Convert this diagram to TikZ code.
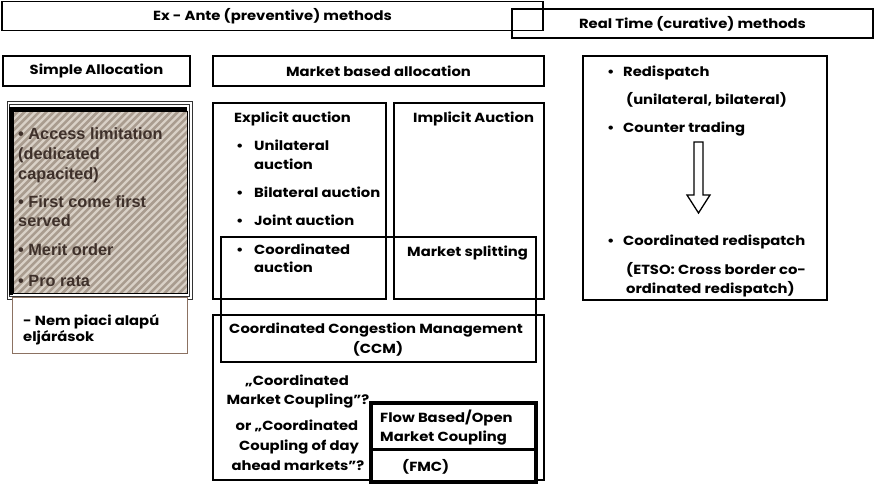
\documentclass[tikz,border=0pt]{standalone}
\usepackage{fontspec}
\setmainfont{Poppins}[FakeStretch=1.12]
\newfontfamily\arialf{Liberation Sans}
\definecolor{hatchbg}{HTML}{D9D1C7}
\definecolor{hatchfg}{HTML}{A99C8F}
\definecolor{browntext}{HTML}{3E302A}
\definecolor{nemborder}{HTML}{8C7262}
\begin{document}
\begin{tikzpicture}[x=1pt,y=-1pt,
  box/.style={draw=black, line width=1.6pt, inner sep=0pt, font=\bfseries\fontsize{13.2}{15}\selectfont},
  thinbox/.style={draw=black, line width=1.2pt, inner sep=0pt},
  txt/.style={inner sep=0pt, anchor=base west, font=\bfseries\fontsize{13.2}{15}\selectfont},
  ctxt/.style={inner sep=0pt, anchor=base, font=\bfseries\fontsize{13.2}{15}\selectfont},
  htxt/.style={inner sep=0pt, anchor=base west, text=browntext, font=\arialf\bfseries\fontsize{16.3}{18}\selectfont},
  bul/.style={inner sep=0pt, anchor=base west, font=\bfseries\fontsize{13.2}{15}\selectfont}]
\useasboundingbox[fill=white] (0,0) rectangle (876,486);

% header boxes
\node[box, minimum width=541pt, minimum height=29pt] (exante) at (272.5,16) {Ex - Ante (preventive) methods};
\node[box, minimum width=361pt, minimum height=29pt] (realtime) at (692.5,23.5) {Real Time (curative) methods};
\node[box, minimum width=187pt, minimum height=30pt] (simple) at (96.5,71) {Simple Allocation};
\node[box, minimum width=331pt, minimum height=30pt] (market) at (378.5,71) {Market based allocation};

% left hatched box
\draw[line width=0.8pt, black!80] (7,101) rectangle (192,299);
\draw[line width=0.8pt, black!80] (9.5,104) rectangle (189.5,296.5);
\fill[hatchbg] (13,111) rectangle (187,293);
\begin{scope}
  \clip (13,111) rectangle (187,293);
  \foreach \x in {-200,-192.7,...,200} {
    \draw[hatchfg, line width=2.6pt] (\x,300) -- ({\x+200},100);
  }
\end{scope}
\draw[line width=0.9pt] (13,111) rectangle (187,293);
\draw[line width=4pt] (11,295) -- (11,109) -- (187,109);
\node[htxt] (h1) at (18,140) {• Access limitation};
\node[htxt] (h2) at (18,160) {(dedicated};
\node[htxt] (h3) at (18,180) {capacited)};
\node[htxt] (h4) at (18,208) {• First come first};
\node[htxt] (h5) at (18,227) {served};
\node[htxt] (h6) at (18,256) {• Merit order};
\node[htxt] (h7) at (18,287) {• Pro rata};

% Nem piaci box
\node[draw=nemborder, line width=1pt, fill=white, minimum width=175pt, minimum height=56pt, inner sep=0pt] (nem) at (99.5,326) {};
\node[txt] (nem1) at (23,326) {- Nem piaci alapú};
\node[txt] (nem2) at (23,342) {eljárások};

% explicit / implicit
\node[box, minimum width=173pt, minimum height=196pt] (explicit) at (299.5,201) {};
\node[box, minimum width=150pt, minimum height=196pt] (implicit) at (469,201) {};
\node[txt] (ex0) at (234,123) {Explicit auction};
\node[bul] (b1) at (236,151) {•};
\node[txt] (ex1) at (254,151) {Unilateral};
\node[txt] (ex2) at (254,170) {auction};
\node[bul] (b2) at (236,198) {•};
\node[txt] (ex3) at (254,198) {Bilateral auction};
\node[bul] (b3) at (236,226) {•};
\node[txt] (ex4) at (254,226) {Joint auction};
\node[bul] (b4) at (236,255) {•};
\node[txt] (ex5) at (254,255) {Coordinated};
\node[txt] (ex6) at (254,273) {auction};
\node[txt] (im0) at (413,123) {Implicit Auction};
\node[txt] (im1) at (407,257) {Market splitting};

% coordinated overlay and CCM
\node[thinbox, minimum width=315pt, minimum height=125pt] (coord) at (378.5,299.5) {};
\node[box, minimum width=331pt, minimum height=165pt] (ccm) at (378.5,397.5) {};
\node[ctxt] (ccm1) at (376,334) {Coordinated Congestion Management};
\node[ctxt] (ccm2) at (378,354) {(CCM)};
\node[ctxt] (q1) at (297,386) {„Coordinated};
\node[ctxt] (q2) at (298,404) {Market Coupling”?};
\node[ctxt] (q3) at (297,430) {or „Coordinated};
\node[ctxt] (q4) at (299,450) {Coupling of day};
\node[ctxt] (q5) at (298,470) {ahead markets”?};

% FMC box
\node[draw=black, line width=3.5pt, fill=white, minimum width=165pt, minimum height=79pt, inner sep=0pt] (fmc) at (453.5,442.5) {};
\draw[line width=3pt] (fmc.west |- 0,449) -- (fmc.east |- 0,449);
\node[txt] (f1) at (380,422) {Flow Based/Open};
\node[txt] (f2) at (380,442) {Market Coupling};
\node[txt] (f3) at (402,471) {(FMC)};

% real time content
\node[box, minimum width=244pt, minimum height=244pt] (rtc) at (705,178) {};
\node[bul] (r0) at (607,77) {•};
\node[txt] (r1) at (623,77) {Redispatch};
\node[txt] (r2) at (626,105) {(unilateral, bilateral)};
\node[bul] (r3) at (607,133) {•};
\node[txt] (r4) at (623,133) {Counter trading};
\node[bul] (r5) at (607,246) {•};
\node[txt] (r6) at (623,246) {Coordinated redispatch};
\node[txt] (r7) at (626,275) {(ETSO: Cross border co-};
\node[txt] (r8) at (626,294) {ordinated redispatch)};
\draw[line width=1.3pt, fill=white] (694,142) -- (703,142) -- (703,195) -- (710,195) -- (698.5,213) -- (687,195) -- (694,195) -- cycle;
\end{tikzpicture}
\end{document}
